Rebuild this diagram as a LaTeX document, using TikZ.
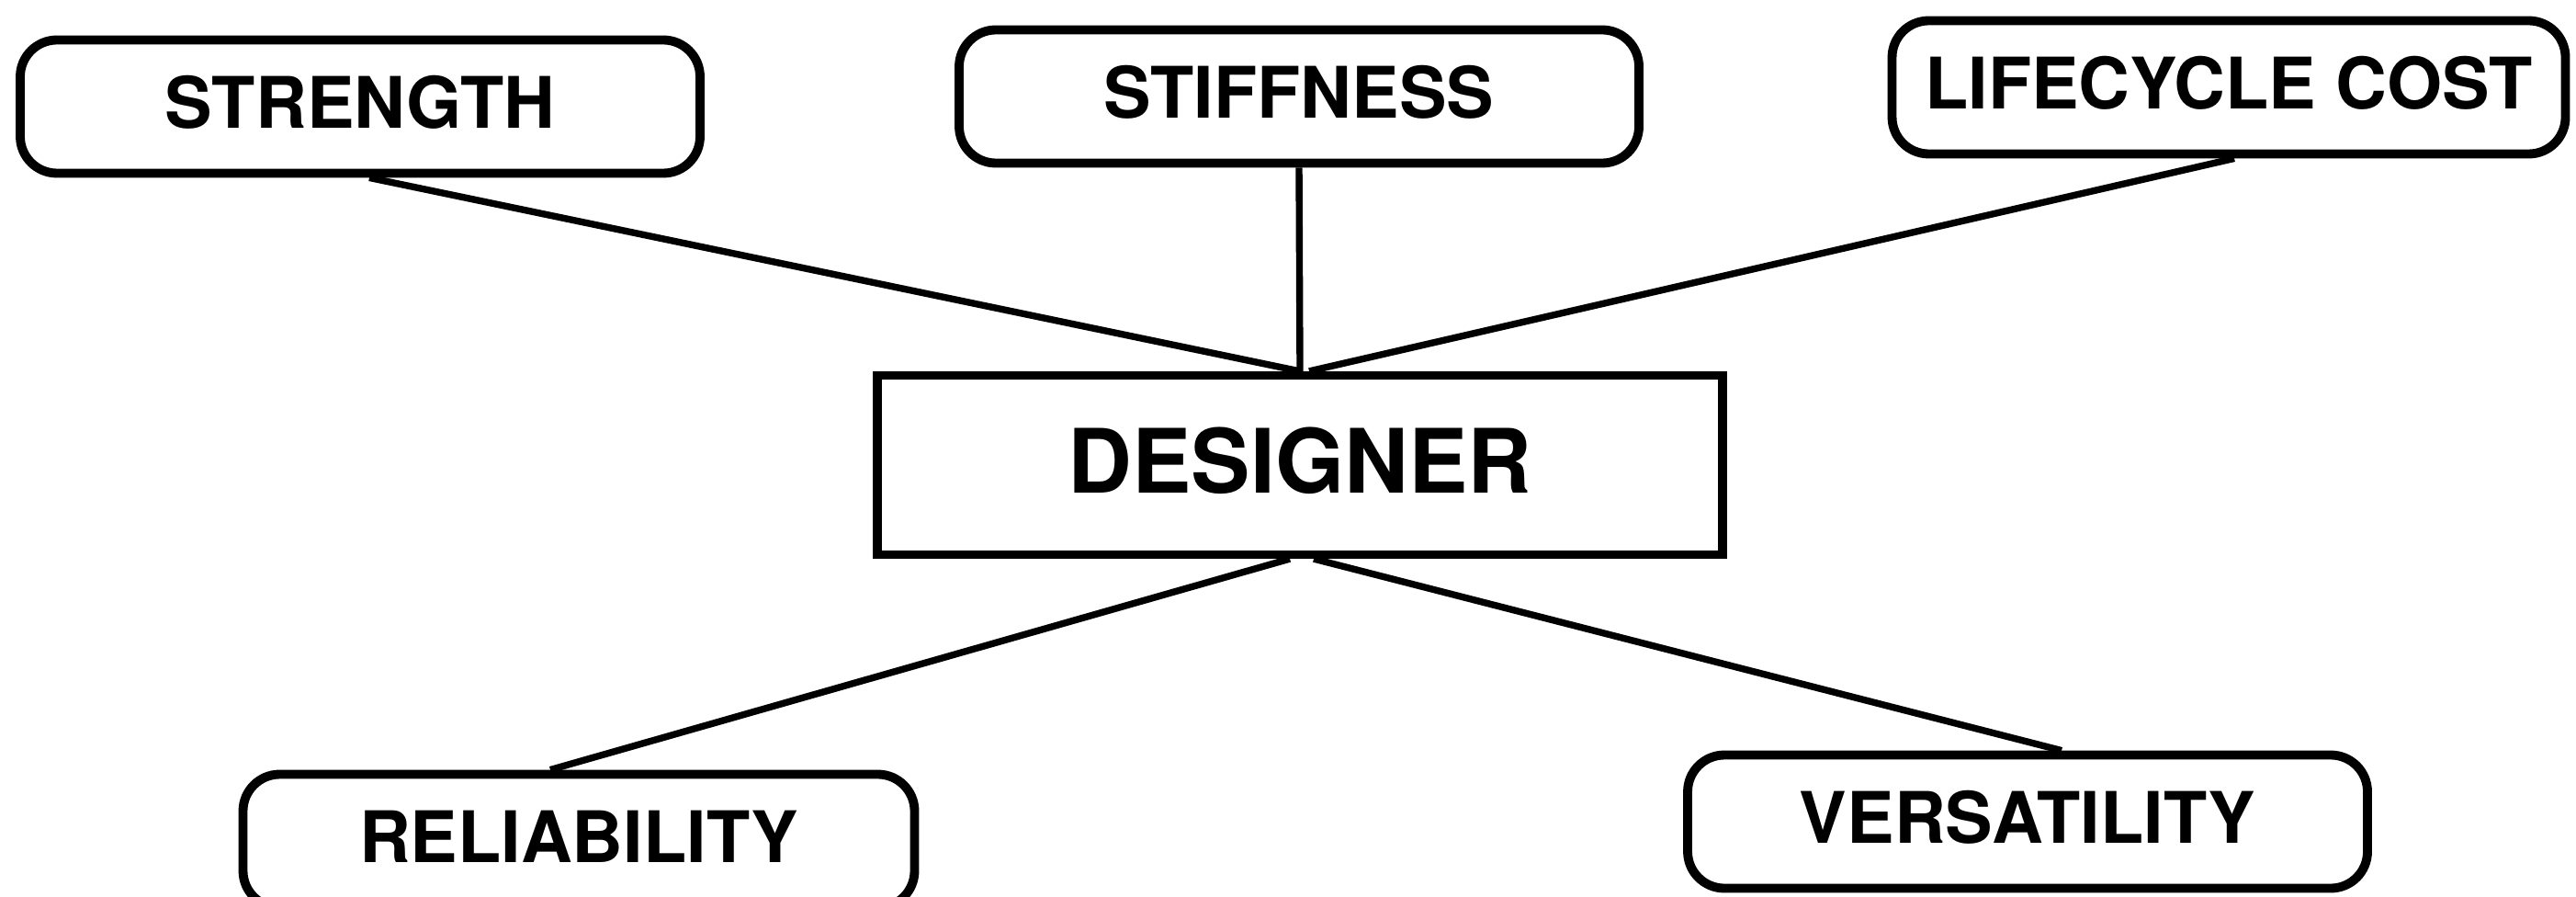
\documentclass[tikz,border=0pt]{standalone}
\usepackage{fontspec}
\setmainfont{TeX Gyre Heros}

\begin{document}
\begin{tikzpicture}[
    goal/.style={draw,line width=2.8pt,rounded corners=0.4cm,
        minimum width=7.4cm,minimum height=1.45cm,text depth=0.1cm,
        font=\fontsize{22}{26}\selectfont\bfseries},
    centre/.style={draw,line width=2.6pt,
        minimum width=9.2cm,minimum height=1.95cm,text depth=0.1cm,
        font=\fontsize{27.5}{32}\selectfont\bfseries},
    link/.style={line width=2.1pt}
]
    \useasboundingbox (0,0) rectangle (28.04,9.75);

    % Central box
    \node[centre] (designer) at (14.15,4.69) {DESIGNER};

    % Top row
    \node[goal] (strength) at (3.92,8.59) {STRENGTH};
    \node[goal] (stiffness) at (14.14,8.70) {STIFFNESS};
    \node[goal,minimum width=7.33cm] (cost) at (24.26,8.80) {LIFECYCLE COST};

    % Bottom row
    \node[goal,minimum width=7.31cm] (reliability) at (6.30,0.60) {RELIABILITY};
    \node[goal] (versatility) at (22.07,0.81) {VERSATILITY};

    % Links to the designer
    \draw[link] ([xshift=0.1cm]strength.south) -- (designer.north);
    \draw[link] (stiffness.south) -- (designer.north);
    \draw[link] ([xshift=0.06cm]cost.south) -- ([xshift=0.1cm]designer.north);
    \draw[link] ([xshift=-0.31cm]reliability.north) -- ([xshift=-0.11cm]designer.south);
    \draw[link] ([xshift=0.37cm]versatility.north) -- ([xshift=0.15cm]designer.south);
\end{tikzpicture}
\end{document}
